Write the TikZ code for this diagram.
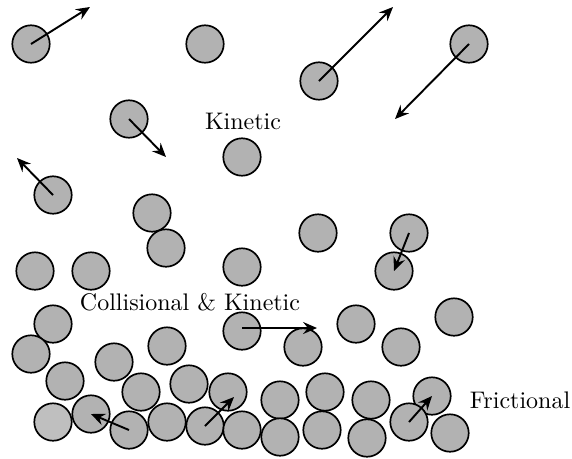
\documentclass[tikz,border=0pt]{standalone}
\usetikzlibrary{arrows.meta}
\begin{document}
\begin{tikzpicture}[x=0.4167pt,y=-0.4167pt,
  ball/.style={circle,draw=black,fill=black!30,line width=0.7pt,minimum size=15.6pt,inner sep=0pt},
  lightball/.style={ball,fill=black!25},
  vec/.style={line width=0.8pt,-{Stealth[length=5.8pt,width=5pt,inset=2pt]}},
  lbl/.style={font=\normalsize,inner sep=0pt}]
\useasboundingbox (0,0) rectangle (572,458);
% balls
\node[ball] (b1) at (31,44) {};
\node[ball] (b2) at (205,44) {};
\node[ball] (b3) at (319,81) {};
\node[ball] (b4) at (469,44) {};
\node[ball] (b5) at (129,119) {};
\node[ball] (b6) at (242,157) {};
\node[ball] (b7) at (53,195) {};
\node[ball] (b8) at (152,213) {};
\node[ball] (b9) at (166,248) {};
\node[ball] (b10) at (318,233) {};
\node[ball] (b11) at (409,233) {};
\node[ball] (b12) at (394,271) {};
\node[ball] (b13) at (35,271) {};
\node[ball] (b14) at (91,271) {};
\node[ball] (b15) at (242,267) {};
\node[ball] (b16) at (53,324) {};
\node[ball] (b17) at (242,331) {};
\node[ball] (b18) at (303,347) {};
\node[ball] (b19) at (356,324) {};
\node[ball] (b20) at (454,317) {};
\node[ball] (b21) at (401,347) {};
\node[ball] (b22) at (31,354) {};
\node[ball] (b23) at (114,362) {};
\node[ball] (b24) at (167,346) {};
\node[ball] (b25) at (65,381) {};
\node[ball] (b26) at (141,392) {};
\node[ball] (b27) at (189,384) {};
\node[ball] (b28) at (228,392) {};
\node[ball] (b29) at (280,400) {};
\node[ball] (b30) at (325,392) {};
\node[ball] (b31) at (371,400) {};
\node[ball] (b32) at (432,396) {};
\node[lightball] (b33) at (53,422) {};
\node[ball] (b34) at (91,414) {};
\node[ball] (b35) at (129,430) {};
\node[ball] (b36) at (167,422) {};
\node[ball] (b37) at (205,426) {};
\node[ball] (b38) at (242,430) {};
\node[ball] (b39) at (280,437) {};
\node[ball] (b40) at (322,430) {};
\node[ball] (b41) at (367,438) {};
\node[ball] (b42) at (409,422) {};
\node[ball] (b43) at (450,433) {};
% free arrow ends
\coordinate (e1) at (90,7);
\coordinate (e3) at (393,7);
\coordinate (e4) at (395,119);
\coordinate (e5) at (166,157);
\coordinate (e7) at (17,158);
\coordinate (e17) at (317,328);
\coordinate (e37) at (234,397);
% arrows
\draw[vec] (b1.center) -- (e1);
\draw[vec] (b3.center) -- (e3);
\draw[vec] (b4.center) -- (e4);
\draw[vec] (b5.center) -- (e5);
\draw[vec] (b7.center) -- (e7);
\draw[vec] (b11.center) -- (b12.center);
\draw[vec] (b17.center |- e17) -- (e17);
\draw[vec] (b35.center) -- (b34.center);
\draw[vec] (b37.center) -- (e37);
\draw[vec] (b42.center) -- (b32.center);
% labels
\node[lbl] (kin) at (243,121) {Kinetic};
\node[lbl] (col) at (190,302) {Collisional \& Kinetic};
\node[lbl] (fri) at (520,400) {Frictional};
\end{tikzpicture}
\end{document}
